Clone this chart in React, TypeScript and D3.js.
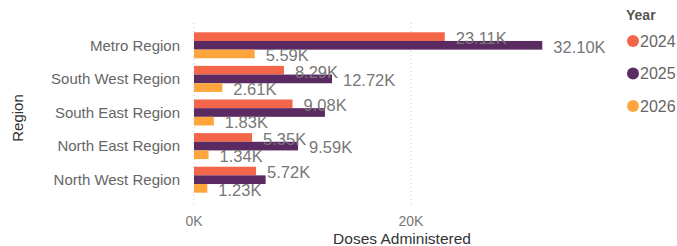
import React from 'react';
import * as d3 from 'd3';

const regions = ['Metro Region', 'South West Region', 'South East Region', 'North East Region', 'North West Region'];
const years = ['2024', '2025', '2026'];
const doses2024 = [23.11, 8.29, 9.08, 5.35, 5.72];
const doses2025 = [32.10, 12.72, 12.07, 9.59, 6.6];
const doses2026 = [5.59, 2.61, 1.83, 1.34, 1.23];
const xTicks = [0, 20];
// labels that the original hides because they collide
const hiddenLabels = ['South East Region|2025', 'North West Region|2025'];

const colors = ['#F4664A', '#5C2A63', '#FFA53D'];

const App = () => {
    const width = 677;
    const height = 246;
    const series = [doses2024, doses2025, doses2026];

    const x = d3.scaleLinear().domain([0, 20]).range([194, 411]);
    const y = d3.scaleBand()
        .domain(regions)
        .range([24.7, 200.3])
        .paddingInner(0.226)
        .paddingOuter(0.226);
    const y1 = d3.scaleBand()
        .domain(years)
        .range([0, y.bandwidth()]);

    const font = 'Liberation Sans, Arial, sans-serif';

    return (
        <svg width={width} height={height} style={{position: 'absolute', left: 0, top: 0}} fontFamily={font}>
            {xTicks.map(t =>
                <g key={t}>
                    <line x1={x(t)} x2={x(t)} y1={23} y2={206} stroke="#c8c8c8" strokeDasharray="1,3" />
                    <text x={x(t)} y={226} textAnchor="middle" fill="#777" style={{fontSize: '14px'}}>{t}K</text>
                </g>
            )}
            <text x={402} y={244} textAnchor="middle" fill="#333" style={{fontSize: '15.5px'}}>Doses Administered</text>
            <text transform="translate(23,118) rotate(-90)" textAnchor="middle" fill="#333" style={{fontSize: '15px'}}>Region</text>

            {regions.map((r, i) =>
                <g key={r}>
                    <text x={180} y={y(r) + y.bandwidth() / 2} dy="0.35em" textAnchor="end" fill="#666" style={{fontSize: '15px'}}>{r}</text>
                    {years.map((yr, j) =>
                        <rect key={yr} x={x(0)} y={y(r) + y1(yr)} width={x(series[j][i]) - x(0)} height={y1.bandwidth()} fill={colors[j]} />
                    )}
                </g>
            )}
            {regions.map((r, i) =>
                <g key={r + 'l'}>
                    {years.map((yr, j) =>
                        hiddenLabels.includes(r + '|' + yr) ? null :
                        <text key={yr} x={x(series[j][i]) + 11} y={y(r) + y1(yr) + y1.bandwidth() / 2 + 1.5} dy="0.35em" fill="#777" style={{fontSize: '16.5px'}}>
                            {series[j][i].toFixed(2)}K
                        </text>
                    )}
                </g>
            )}

            <text x={626} y={20} fill="#555" style={{fontSize: '14px', fontWeight: 'bold'}}>Year</text>
            {years.map((yr, j) =>
                <g key={yr}>
                    <circle cx={633} cy={41 + j * 32.5} r={6} fill={colors[j]} />
                    <text x={640} y={41 + j * 32.5} dy="0.35em" fill="#666" style={{fontSize: '16px'}}>{yr}</text>
                </g>
            )}
        </svg>
    );
}

export default App;
